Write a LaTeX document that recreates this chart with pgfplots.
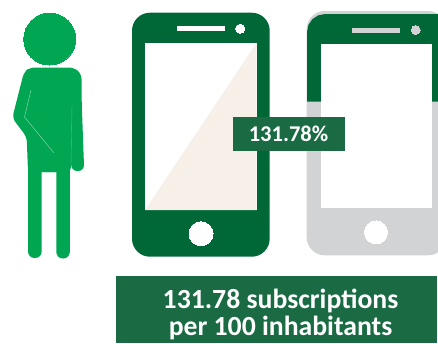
\documentclass[border=0pt]{standalone}
\usepackage{fontspec}
\setmainfont{Carlito}
\usepackage{pgfplots}
\pgfplotsset{compat=1.18}
\definecolor{personGreen}{HTML}{00A651}
\definecolor{phoneGreen}{HTML}{006837}
\definecolor{boxGreen}{HTML}{1A6B43}
\definecolor{phoneGrey}{HTML}{D1D3D4}
\definecolor{screenTint}{HTML}{F6F0E9}
\pgfplotsset{
  shape/.style={draw=none,fill=#1,mark=none,forget plot},
  disc/.style n args={2}{only marks,mark=*,mark size=#1pt,
    mark options={draw=#2,fill=#2,line width=0pt},forget plot},
}
\begin{document}
\begin{tikzpicture}
\begin{axis}[
  name=plate,
  scale only axis,width=438pt,height=343pt,
  xmin=0,xmax=438,ymin=0,ymax=343,y dir=reverse,
  hide axis,clip=true]

% person: torso and arms
\addplot[shape=personGreen,rounded corners=5pt] coordinates
  {(50,67.5) (74,67.5) (81.5,74) (82,130) (71.2,130) (71.2,172) (28,172) (26.7,137) (12.3,118) (24,72) (30,67.5) (50,67.5)};
\addplot[shape=personGreen,rounded corners=6pt] coordinates
  {(76,100) (81.6,100) (84.2,171) (71.2,171) (71.2,100) (76,100)};
\addplot[shape=personGreen,rounded corners=6.5pt] coordinates
  {(35,160) (41.7,160) (41.7,258) (28,258) (28,160) (35,160)};
\addplot[shape=personGreen,rounded corners=6.5pt] coordinates
  {(63,160) (69.8,160) (69.8,258.5) (56.3,258.5) (56.3,160) (63,160)};
\addplot[shape=personGreen] coordinates
  {(28,140) (71,140) (69.8,172) (28,172)};
\addplot[draw=white,opacity=.6,line width=.4pt,mark=none,forget plot] coordinates
  {(31,90) (24.5,117) (54,153)};
\addplot[draw=white,opacity=.3,line width=.4pt,mark=none,forget plot] coordinates
  {(72,105) (71,165)};
\addplot[disc={26}{personGreen}] coordinates {(49.7,39)};

% phone filled to its full height
\addplot[shape=phoneGreen,rounded corners=18pt] coordinates
  {(200,12.7) (269.7,12.7) (269.7,256.7) (132,256.7) (132,12.7) (200,12.7)};
\addplot[shape=white] coordinates
  {(145,42.7) (256.7,42.7) (256.7,210) (145,210)};
\addplot[shape=screenTint] coordinates
  {(145,210) (256.7,42.7) (256.7,210)};
\addplot[shape=white] coordinates
  {(177,25.7) (224.7,25.7) (224.7,31) (177,31)};
\addplot[disc={4.5}{white}] coordinates {(240.3,28.7)};
\addplot[disc={12}{white}] coordinates {(201,233.7)};

% phone filled down to the share level
\addplot[shape=phoneGrey,rounded corners=18pt] coordinates
  {(370,11) (446,11) (446,255.3) (306.7,255.3) (306.7,11) (370,11)};
\addplot[shape=phoneGreen] coordinates
  {(307,101.7) (307,32) (308.4,25) (312.3,19.3) (318,15.4) (325,14) (446,14) (446,101.7)};
\addplot[shape=white] coordinates
  {(320.7,44.3) (431.7,44.3) (431.7,208) (320.7,208)};
\addplot[shape=phoneGrey] coordinates
  {(352.3,27.7) (400,27.7) (400,32.7) (352.3,32.7)};
\addplot[disc={4.5}{phoneGrey}] coordinates {(415.7,30)};
\addplot[disc={11.5}{white}] coordinates {(376,232.3)};

% value label
\addplot[shape=boxGreen] coordinates
  {(233,117) (345,117) (345,151) (233,151)};
\node[text=white,font=\fontsize{22.5}{24}\selectfont\bfseries,inner sep=0pt]
  at (axis cs:288.5,134) {131.78\%};

% caption band
\addplot[shape=boxGreen] coordinates
  {(116,276) (437.4,276) (437.4,343) (116,343)};
\node[text=white,font=\fontsize{27.7}{26.5}\selectfont\bfseries,inner sep=0pt,
  align=center] at (axis cs:280.5,314.5) {131.78 subscriptions\\per 100 inhabitants};
\end{axis}
\pgfresetboundingbox
\useasboundingbox (plate.south west) rectangle (plate.north east);
\end{tikzpicture}
\end{document}
